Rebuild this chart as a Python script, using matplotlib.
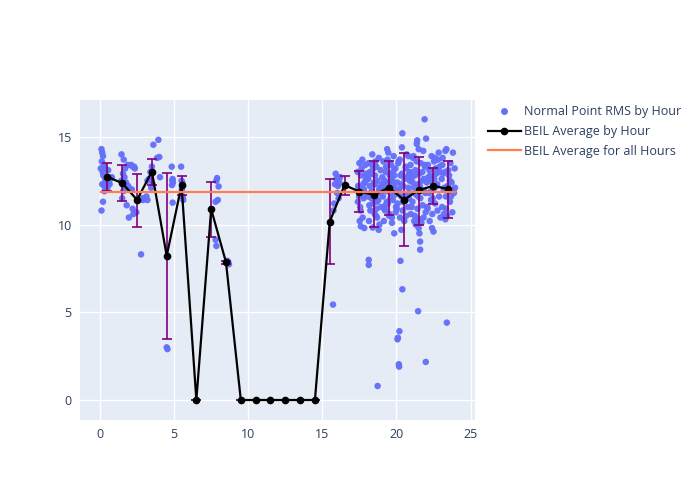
import matplotlib
matplotlib.use("Agg")
import matplotlib.pyplot as plt
from matplotlib.lines import Line2D

# ---------------- data ----------------
# Normal point RMS scatter, hours 0-9 (hour of day, RMS)
pts_x_early = [0.05, 0.1, 0.15, 0.2, 0.12, 0.25, 0.3, 0.18, 0.22, 0.35, 0.4, 0.15, 0.28, 0.5, 0.6, 0.45,
               0.7, 0.55, 0.3, 0.2, 0.1, 0.8, 0.65,
               1.45, 1.6, 1.87, 1.7, 2.2, 1.55, 1.65, 1.44, 1.75, 1.9, 1.7, 1.57, 1.5, 1.8, 2.2, 2.25, 1.95, 2.05,
               2.1, 2.3, 2.35, 2.15, 2.45, 2.77, 2.85, 2.9,
               3.6, 3.94, 4.0, 3.85, 3.5, 3.4, 3.3, 3.2, 3.55, 3.45, 3.13, 3.2, 4.05,
               4.5, 4.55, 4.84, 4.9, 4.88, 4.92, 4.86, 4.9,
               5.47, 5.5, 5.55, 5.6, 5.52, 5.58, 5.62,
               7.9, 7.85, 8.0, 7.95, 7.8, 7.8, 7.85,
               8.6, 8.65, 8.7]
pts_y_early = [13.2, 14.3, 14.1, 13.9, 13.6, 13.4, 13.2, 13.0, 12.8, 12.6, 12.5, 12.3, 12.2, 12.1, 12.4, 12.0,
               12.6, 13.1, 11.9, 11.3, 10.8, 12.7, 12.3,
               14.0, 13.7, 13.4, 13.2, 13.3, 12.9, 12.7, 12.5, 12.4, 12.2, 12.1, 11.9, 11.5, 11.1, 10.9, 10.6,
               10.4, 12.0,
               13.4, 13.3, 13.2, 12.0, 10.7, 8.3, 11.5, 11.4,
               14.55, 14.83, 13.85, 13.8, 13.3, 13.0, 12.6, 12.5, 12.3, 12.1, 11.6, 11.4, 12.7,
               3.0, 2.9, 13.3, 12.6, 12.5, 12.4, 12.25, 11.25,
               13.3, 12.5, 12.4, 12.2, 12.0, 11.6, 11.4,
               12.65, 12.5, 12.17, 11.4, 11.3, 9.13, 8.78,
               7.93, 7.85, 7.74]

# Normal point RMS scatter, hours 15-24, as (hour, RMS) pairs
pts15 = [(15.72, 5.44), (15.75, 10.8), (15.8, 11.2), (15.85, 12.3), (15.9, 12.9), (15.95, 12.6),
         (16.0, 11.8), (16.05, 12.2), (16.1, 11.5), (16.2, 12.7), (16.15, 12.4)]
pts17 = [(17.62, 12.8), (17.9, 13.4), (17.45, 12.1), (17.78, 11.5), (17.38, 13.0), (17.85, 12.4),
         (17.55, 11.0), (17.95, 12.9), (17.5, 13.5), (17.72, 10.4), (17.42, 12.2), (17.88, 11.8),
         (17.6, 9.9), (17.97, 12.6), (17.65, 13.2), (17.4, 11.3), (17.8, 12.0), (17.58, 10.8),
         (17.92, 12.5), (17.7, 13.7), (17.83, 9.8), (17.48, 11.6), (17.75, 12.3), (17.52, 10.2)]
pts18 = [(18.37, 14.0), (18.81, 13.8), (18.12, 13.5), (18.64, 13.3), (18.93, 13.1), (18.28, 12.9),
         (18.55, 12.8), (18.05, 12.6), (18.72, 12.5), (18.46, 12.3), (18.19, 12.2), (18.88, 12.0),
         (18.33, 11.9), (18.61, 11.7), (18.08, 11.6), (18.77, 11.4), (18.42, 11.2), (18.97, 11.0),
         (18.24, 10.8), (18.53, 10.6), (18.69, 10.4), (18.15, 10.2), (18.85, 10.0), (18.4, 9.83),
         (18.8, 9.7), (18.58, 13.6), (18.13, 7.99), (18.13, 7.7), (18.73, 0.8), (18.03, 12.7),
         (18.9, 12.1), (18.31, 11.5), (18.66, 10.9), (18.21, 13.0), (18.49, 12.4), (18.95, 11.8),
         (18.1, 12.6), (18.44, 13.2), (18.7, 11.3), (18.27, 12.9), (18.62, 10.5), (18.83, 12.0),
         (18.36, 13.4), (18.17, 11.1), (18.57, 12.3)]
pts19 = [(19.37, 14.3), (19.81, 13.9), (19.12, 13.6), (19.64, 13.4), (19.93, 13.2), (19.28, 13.0),
         (19.55, 12.8), (19.05, 12.7), (19.72, 12.5), (19.46, 12.4), (19.19, 12.2), (19.88, 12.1),
         (19.33, 11.9), (19.61, 11.8), (19.08, 11.6), (19.77, 11.4), (19.42, 11.2), (19.97, 11.0),
         (19.24, 10.8), (19.53, 10.6), (19.69, 10.4), (19.15, 10.2), (19.85, 9.5), (19.4, 13.7),
         (19.58, 12.9), (19.03, 12.3), (19.9, 11.7), (19.26, 11.1), (19.5, 10.5), (19.66, 12.6),
         (19.18, 10.9), (19.82, 13.1), (19.45, 14.1), (19.6, 11.5), (19.1, 12.0), (19.75, 12.2),
         (19.3, 13.3), (19.95, 10.7), (19.2, 12.5), (19.57, 13.5), (19.86, 12.8), (19.35, 11.3),
         (19.7, 10.1)]
pts20 = [(20.37, 14.4), (20.81, 13.9), (20.12, 13.5), (20.64, 13.2), (20.93, 13.0), (20.28, 12.8),
         (20.55, 12.6), (20.05, 12.4), (20.4, 15.2), (20.46, 12.2), (20.19, 12.0), (20.88, 11.8),
         (20.33, 11.6), (20.61, 11.4), (20.08, 11.2), (20.77, 11.0), (20.42, 10.8), (20.97, 10.6),
         (20.24, 10.4), (20.53, 10.2), (20.69, 14.0), (20.15, 13.6), (20.85, 12.9), (20.3, 12.3),
         (20.58, 11.7), (20.03, 10.9), (20.9, 12.5), (20.27, 7.93), (20.4, 6.31), (20.2, 3.92),
         (20.07, 3.46), (20.1, 3.55), (20.16, 2.04), (20.18, 1.9), (20.33, 9.7), (20.62, 13.3),
         (20.5, 10.3), (20.8, 12.1), (20.22, 13.7), (20.72, 12.7), (20.45, 11.3), (20.95, 13.4),
         (20.12, 11.9), (20.66, 10.5), (20.38, 12.9), (20.84, 11.5)]
pts21 = [(21.37, 14.6), (21.81, 14.2), (21.12, 13.8), (21.64, 13.5), (21.93, 13.3), (21.28, 13.1),
         (21.55, 12.9), (21.05, 12.7), (21.72, 12.5), (21.46, 12.3), (21.19, 12.1), (21.88, 11.9),
         (21.33, 11.7), (21.61, 11.5), (21.08, 11.3), (21.77, 11.1), (21.42, 10.9), (21.97, 10.7),
         (21.24, 10.5), (21.53, 10.3), (21.69, 10.1), (21.15, 13.9), (21.85, 12.6), (21.4, 14.8),
         (21.58, 12.2), (21.03, 11.0), (21.9, 13.4), (21.6, 9.03), (21.6, 8.57), (21.5, 9.8),
         (21.55, 9.5), (21.46, 5.06), (21.3, 10.0), (21.2, 10.2), (21.75, 13.0), (21.1, 12.4),
         (21.47, 11.6), (21.66, 12.0), (21.25, 12.8), (21.83, 10.4), (21.36, 13.6), (21.95, 11.8),
         (21.5, 14.3)]
pts22 = [(22.37, 13.9), (22.81, 13.7), (22.12, 13.4), (22.64, 13.2), (22.93, 13.0), (22.28, 12.8),
         (22.55, 12.6), (22.05, 12.4), (22.72, 12.2), (22.46, 12.0), (22.19, 11.8), (22.88, 11.6),
         (22.33, 11.4), (22.61, 11.2), (22.08, 11.0), (22.77, 10.8), (22.42, 10.6), (22.97, 10.4),
         (22.24, 10.2), (22.53, 13.6), (22.69, 12.9), (21.9, 16.0), (22.0, 14.9), (21.98, 2.17),
         (22.4, 9.8), (22.5, 9.6), (22.3, 12.5), (22.6, 13.8), (22.15, 12.7), (22.85, 14.1),
         (22.35, 11.9), (22.75, 12.3), (22.1, 10.9), (22.9, 13.3), (22.45, 11.5), (22.58, 12.1),
         (22.22, 13.1)]
pts23 = [(23.37, 14.3), (23.81, 14.1), (23.12, 13.8), (23.64, 13.5), (23.93, 13.2), (23.28, 13.0),
         (23.55, 12.8), (23.05, 12.6), (23.72, 12.4), (23.46, 12.2), (23.19, 12.0), (23.88, 11.8),
         (23.33, 11.6), (23.61, 11.3), (23.08, 11.0), (23.77, 10.7), (23.42, 10.5), (23.3, 10.3),
         (23.24, 12.1), (23.53, 11.9), (23.4, 4.41), (23.3, 14.2), (23.2, 10.6), (23.95, 12.1),
         (23.15, 12.9), (23.85, 12.0), (23.5, 13.1), (23.35, 10.9), (23.68, 11.6), (23.1, 13.4),
         (23.6, 12.5)]

# BEIL average by hour (hour centres, mean, error bar upper/lower extents)
avg_hours = [0.5, 1.5, 2.5, 3.5, 4.5, 5.5, 6.5, 7.5, 8.5, 9.5, 10.5, 11.5, 12.5, 13.5, 14.5,
             15.5, 16.5, 17.5, 18.5, 19.5, 20.5, 21.5, 22.5, 23.5]
avg_values = [12.72, 12.36, 11.41, 13.02, 8.21, 12.25, 0.0, 10.88, 7.85, 0.0, 0.0, 0.0, 0.0, 0.0, 0.0,
              10.17, 12.25, 11.88, 11.69, 12.11, 11.41, 11.96, 12.21, 12.02]
err_upper = [13.5, 13.37, 12.89, 13.75, 12.95, 12.78, 0.0, 12.45, 7.95, 0.0, 0.0, 0.0, 0.0, 0.0, 0.0,
             12.59, 12.74, 13.04, 13.65, 13.63, 14.07, 13.84, 13.25, 13.63]
err_lower = [11.9, 11.35, 9.87, 12.23, 3.5, 11.71, 0.0, 9.28, 7.75, 0.0, 0.0, 0.0, 0.0, 0.0, 0.0,
             7.76, 11.69, 10.7, 9.85, 10.53, 8.75, 9.98, 11.16, 10.36]

overall_avg = 11.85

# ---------------- plot ----------------
plt.rcParams['font.family'] = ['Open Sans', 'DejaVu Sans']
txt = '#2a3f5f'

fig = plt.figure(figsize=(7, 5), dpi=100)
ax = fig.add_axes([80 / 700, 80 / 500, 395 / 700, 320 / 500])
ax.set_facecolor('#E5ECF6')

late = pts15 + pts17 + pts18 + pts19 + pts20 + pts21 + pts22 + pts23
px = pts_x_early + [p[0] for p in late]
py = pts_y_early + [p[1] for p in late]
ax.scatter(px, py, s=22, color='#636efa', edgecolors='none', alpha=0.95, zorder=2)

yerr_lo = [v - lo for v, lo in zip(avg_values, err_lower)]
yerr_hi = [hi - v for v, hi in zip(avg_values, err_upper)]
ax.errorbar(avg_hours, avg_values, yerr=[yerr_lo, yerr_hi], fmt='none', ecolor='purple',
            elinewidth=1.2, capsize=3.5, capthick=1.2, zorder=3)
ax.plot(avg_hours, avg_values, color='black', linewidth=1.6, marker='o', markersize=4.5, zorder=4)

ax.plot([min(px), max(px)], [overall_avg, overall_avg], color='#FF7F50', linewidth=1.6, zorder=5)

ax.set_xlim(-1.35, 25.3)
ax.set_ylim(-1.14, 17.1)
ax.set_xticks([0, 5, 10, 15, 20, 25])
ax.set_yticks([0, 5, 10, 15])
ax.grid(True, color='white', linewidth=1.0)
ax.set_axisbelow(True)
for s in ax.spines.values():
    s.set_visible(False)
ax.tick_params(length=0, labelsize=9, colors=txt, pad=6)

handles = [
    Line2D([], [], linestyle='none', marker='o', markersize=5, color='#636efa', markeredgewidth=0),
    Line2D([], [], color='black', linewidth=1.6, marker='o', markersize=4.5),
    Line2D([], [], color='#FF7F50', linewidth=1.6),
]
labels = ['Normal Point RMS by Hour', 'BEIL Average by Hour', 'BEIL Average for all Hours']
leg = fig.legend(handles, labels, loc='upper left', bbox_to_anchor=(483 / 700, 1 - 100 / 500),
                 frameon=False, fontsize=9, handlelength=2.6, labelspacing=0.55,
                 handletextpad=0.3, borderaxespad=0)
for t in leg.get_texts():
    t.set_color(txt)

fig.savefig('out.png', dpi=100)
